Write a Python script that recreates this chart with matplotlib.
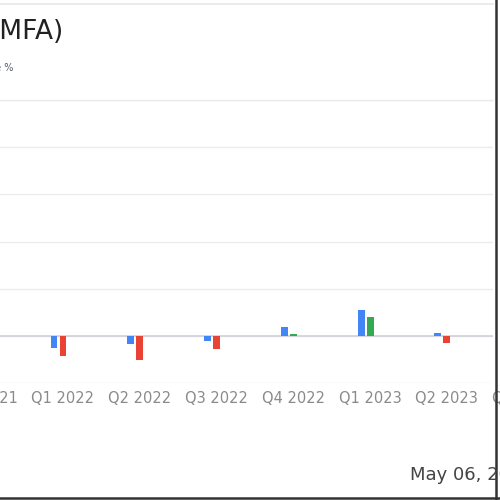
import numpy as np
import matplotlib.pyplot as plt
from matplotlib.lines import Line2D

quarters = ["Q4 2021", "Q1 2022", "Q2 2022", "Q3 2022", "Q4 2022", "Q1 2023", "Q2 2023", "Q3 2023"]
estimate = [np.nan, -0.26, -0.17, -0.11, 0.19, 0.55, 0.06, np.nan]
actual = [np.nan, -0.43, -0.51, -0.28, 0.03, 0.40, -0.15, np.nan]

blue, red, green = "#4285F4", "#EA4335", "#34A853"

fig = plt.figure(figsize=(5, 5), dpi=100)
ax = fig.add_axes([0.0, 0.234, 0.986, 0.566])

x = np.arange(len(quarters))
w = 0.09
ax.bar(x - 0.117, estimate, width=w, color=blue, zorder=3)
act_colors = [green if v >= 0 else red for v in np.nan_to_num(actual)]
ax.bar(x, actual, width=w, color=act_colors, zorder=3)

ax.set_yticks(range(-1, 6))
ax.yaxis.grid(True, color="#ebebeb", linewidth=1)
ax.axhline(0, color="#d0d0d8", linewidth=1.2, zorder=2)
ax.set_xticks([])
ax.tick_params(axis="y", length=0, labelleft=False)
ax.set_xlim(0.18, 6.6)
ax.set_ylim(-1, 5)
for s in ax.spines.values():
    s.set_visible(False)

# quarter labels drawn as text so the ones past the edges still show
trans = ax.get_xaxis_transform()
for xi, q in zip(x, quarters):
    ax.text(xi, -0.055, q, transform=trans, ha="center", va="center",
            fontsize=10.5, color="#8a8a8a", clip_on=False)

fig.text(0.126, 0.922, "MFA Financial Inc (MFA)", ha="right", va="baseline",
         fontsize=19, color="#222222")
fig.text(0.026, 0.864, "Earnings surprise %", ha="right", va="center",
         fontsize=7, color="#555a70")
fig.text(0.82, 0.05, "May 06, 2024", ha="left", va="center",
         fontsize=13, color="#444444")

fig.add_artist(Line2D([0, 0.986], [0.992, 0.992], color="#e8e8e8", linewidth=1.2))
fig.add_artist(Line2D([0, 0.986], [0.8, 0.8], color="#ebebeb", linewidth=1))
fig.add_artist(Line2D([0.992, 0.992], [0.0, 1.0], color="#333333", linewidth=1.8))
fig.add_artist(Line2D([0, 1.0], [0.005, 0.005], color="#333333", linewidth=1.8))

fig.savefig("out.png", dpi=100)
